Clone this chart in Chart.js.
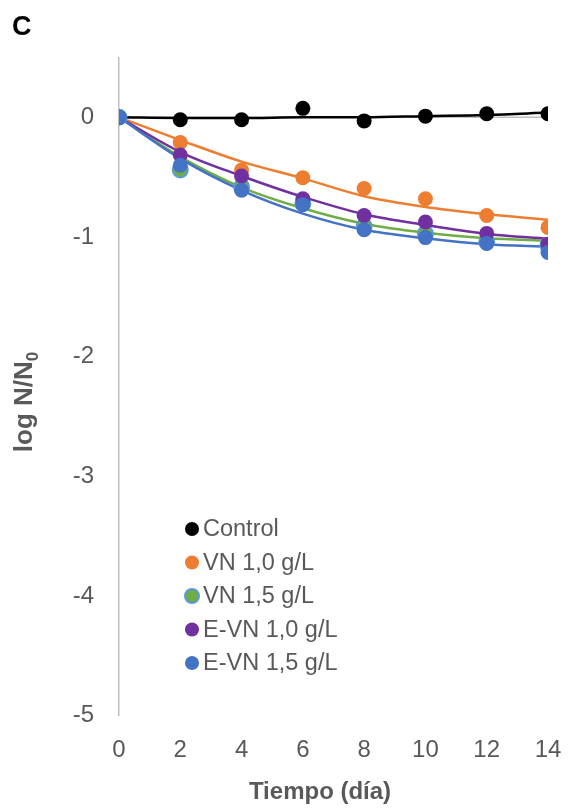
<!DOCTYPE html>
<html>
<head>
<meta charset="utf-8">
<script src="https://cdn.jsdelivr.net/npm/chart.js@4"></script>
<style>
  html, body { margin: 0; padding: 0; background: #ffffff; }
  #wrap { width: 568px; height: 810px; }
</style>
</head>
<body>
<div id="wrap"><canvas id="chart" width="568" height="810"></canvas></div>
<script>
// Sampling days
const days = [0, 2, 4, 6, 8, 10, 12, 14];

// Measured log N/N0 per treatment
const control = [0, -0.02, -0.02, 0.075, -0.03, 0.01, 0.03, 0.03];
const vn10    = [0, -0.21, -0.44, -0.505, -0.595, -0.68, -0.82, -0.92];
const vn15    = [0, -0.44, -0.58, -0.72, -0.91, -0.97, -1.04, -1.07];
const evn10   = [0, -0.315, -0.49, -0.68, -0.82, -0.875, -0.97, -1.06];
const evn15   = [0, -0.40, -0.61, -0.73, -0.94, -1.005, -1.055, -1.13];

// Fitted trend curves at the same days
const controlFit = [0, -0.005, -0.005, 0, 0, 0.01, 0.02, 0.04];
const vn10Fit    = [0, -0.19, -0.37, -0.51, -0.66, -0.75, -0.81, -0.855];
const vn15Fit    = [0, -0.33, -0.585, -0.76, -0.89, -0.965, -1.01, -1.03];
const evn10Fit   = [0, -0.29, -0.49, -0.665, -0.81, -0.90, -0.975, -1.015];
const evn15Fit   = [0, -0.345, -0.61, -0.805, -0.94, -1.01, -1.06, -1.08];

const seriesNames = ['Control', 'VN 1,0 g/L', 'VN 1,5 g/L', 'E-VN 1,0 g/L', 'E-VN 1,5 g/L'];
const yTicks = [-5, -4, -3, -2, -1, 0];

const series = [
  { name: seriesNames[0], pts: control, fit: controlFit, fill: '#000000', border: '#000000', line: '#000000' },
  { name: seriesNames[1], pts: vn10,    fit: vn10Fit,    fill: '#ED7D31', border: '#ED7D31', line: '#ED7D31' },
  { name: seriesNames[2], pts: vn15,    fit: vn15Fit,    fill: '#70AD47', border: '#5B9BD5', line: '#70AD47' },
  { name: seriesNames[3], pts: evn10,   fit: evn10Fit,   fill: '#7030A0', border: '#7030A0', line: '#7030A0' },
  { name: seriesNames[4], pts: evn15,   fit: evn15Fit,   fill: '#4472C4', border: '#4472C4', line: '#4472C4' }
];

const toXY = arr => days.map((d, i) => ({ x: d, y: arr[i] }));

const datasets = [];
series.forEach((s, i) => {
  datasets.push({
    label: s.name,
    data: toXY(s.pts),
    showLine: false,
    pointRadius: 7.5,
    pointHoverRadius: 7.5,
    pointBackgroundColor: s.fill,
    pointBorderColor: s.border,
    pointBorderWidth: s.border === s.fill ? 0 : 2,
    order: 10 - i
  });
});
series.forEach((s, i) => {
  datasets.push({
    label: s.name + ' fit',
    data: toXY(s.fit),
    showLine: true,
    borderColor: s.line,
    borderWidth: 2.5,
    pointRadius: 0,
    cubicInterpolationMode: 'monotone',
    order: 30 - i
  });
});

const FONT = "'Liberation Sans', Arial, sans-serif";
const GREY = '#595959';
const AXIS = '#BFBFBF';

const decorations = {
  id: 'decorations',
  beforeDatasetsDraw(chart) {
    const { ctx, scales: { x, y } } = chart;
    // horizontal axis line at y = 0
    ctx.save();
    ctx.strokeStyle = AXIS;
    ctx.lineWidth = 1.5;
    ctx.beginPath();
    ctx.moveTo(x.getPixelForValue(0), y.getPixelForValue(0));
    ctx.lineTo(x.getPixelForValue(14), y.getPixelForValue(0));
    ctx.stroke();
    ctx.restore();
  },
  afterDraw(chart) {
    const { ctx, chartArea } = chart;
    ctx.save();
    // panel letter
    ctx.fillStyle = '#000000';
    ctx.font = 'bold 27px ' + FONT;
    ctx.textBaseline = 'alphabetic';
    ctx.textAlign = 'left';
    ctx.fillText('C', 12, 35);

    // y axis title with subscript
    ctx.fillStyle = GREY;
    ctx.translate(32, 402);
    ctx.rotate(-Math.PI / 2);
    const main = 'log N/N';
    ctx.font = 'bold 26px ' + FONT;
    const wMain = ctx.measureText(main).width;
    ctx.font = 'bold 17px ' + FONT;
    const wSub = ctx.measureText('0').width;
    const start = -(wMain + wSub) / 2;
    ctx.font = 'bold 26px ' + FONT;
    ctx.fillText(main, start, 0);
    ctx.font = 'bold 17px ' + FONT;
    ctx.fillText('0', start + wMain, 6);
    ctx.restore();

    // x axis title
    ctx.save();
    ctx.fillStyle = GREY;
    ctx.font = 'bold 24px ' + FONT;
    ctx.textAlign = 'center';
    ctx.textBaseline = 'middle';
    ctx.fillText('Tiempo (día)', (chartArea.left + chartArea.right) / 2 - 13.5, 792);
    ctx.restore();

    // legend inside the plot area
    ctx.save();
    const lx = 192, ly0 = 529, dy = 33.5;
    series.forEach((s, i) => {
      const yy = ly0 + i * dy;
      ctx.beginPath();
      ctx.arc(lx, yy, 7, 0, Math.PI * 2);
      ctx.fillStyle = s.fill;
      ctx.fill();
      if (s.border !== s.fill) {
        ctx.lineWidth = 2;
        ctx.strokeStyle = s.border;
        ctx.stroke();
      }
      ctx.fillStyle = GREY;
      ctx.font = '23.5px ' + FONT;
      ctx.textAlign = 'left';
      ctx.textBaseline = 'middle';
      ctx.fillText(s.name, lx + 11, yy + 1);
    });
    ctx.restore();
  }
};

new Chart(document.getElementById('chart'), {
  type: 'scatter',
  data: { datasets },
  options: {
    responsive: false,
    devicePixelRatio: 1,
    animation: false,
    layout: { padding: { top: 57.5, right: 20, bottom: 0, left: 0 } },
    plugins: {
      legend: { display: false },
      tooltip: { enabled: false },
      title: { display: false }
    },
    scales: {
      x: {
        type: 'linear',
        min: 0,
        max: 14,
        afterFit(scale) {
          scale.height = 810 - 715.6;
          scale.paddingLeft = 0;
          scale.paddingRight = 0;
        },
        grid: { display: false, drawTicks: false },
        border: { display: false },
        ticks: {
          stepSize: 2,
          padding: 20,
          color: GREY,
          font: { family: FONT, size: 24 }
        }
      },
      y: {
        type: 'linear',
        min: -5,
        max: 0.5,
        afterFit(scale) { scale.width = 119; },
        afterBuildTicks(scale) { scale.ticks = yTicks.map(v => ({ value: v })); },
        grid: { display: false, drawTicks: false },
        border: { display: true, color: AXIS, width: 1.5 },
        ticks: {
          padding: 25,
          color: GREY,
          font: { family: FONT, size: 24 }
        }
      }
    }
  },
  plugins: [decorations]
});
</script>
</body>
</html>
